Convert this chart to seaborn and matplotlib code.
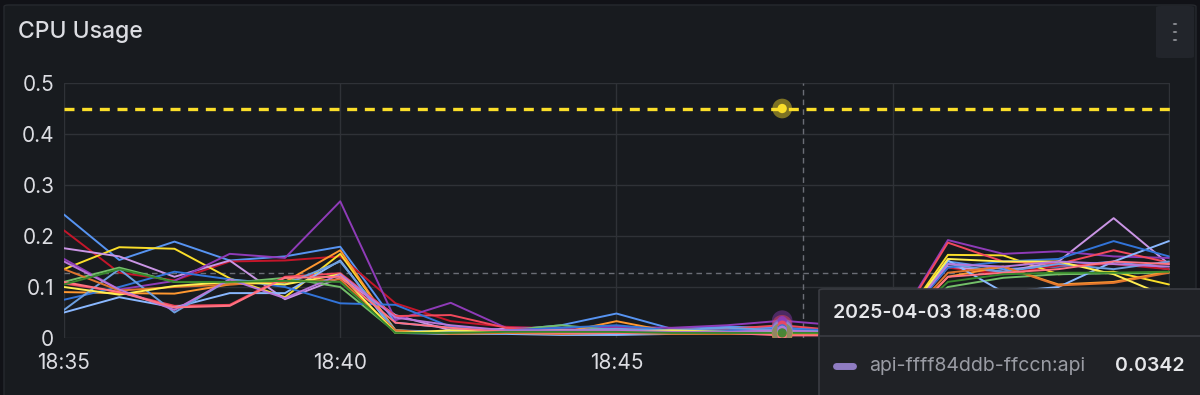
import numpy as np
import pandas as pd
import matplotlib
matplotlib.use("Agg")
import matplotlib.pyplot as plt
import matplotlib.patches as mpatches
import seaborn as sns

# ---------------- data ----------------
minutes = list(range(21))  # 18:35 ... 18:55, 1-minute steps
tick_pos = [0, 5, 10, 15, 20]
tick_labels = ["18:35", "18:40", "18:45", "", ""]   # 18:50 / 18:55 hidden under the tooltip
y_ticks = [0, 0.1, 0.2, 0.3, 0.4, 0.5]
y_tick_labels = ["0", "0.1", "0.2", "0.3", "0.4", "0.5"]
threshold = 0.45
hover_idx = 13
hover_label = "2025-04-03 18:48:00"
hover_series = "api-ffff84ddb-ffccn:api"
hover_value = "0.0342"

series_names = [
    "api-ffff84ddb-2k9xt:api", "api-ffff84ddb-4hq7m:api", "api-ffff84ddb-5rwzn:api",
    "api-ffff84ddb-7bjlc:api", "api-ffff84ddb-ffccn:api", "api-ffff84ddb-8tnvd:api",
    "api-ffff84ddb-9pxqs:api", "api-ffff84ddb-b2mfk:api", "api-ffff84ddb-cw6rh:api",
    "api-ffff84ddb-dl3gz:api", "api-ffff84ddb-gk8vy:api", "api-ffff84ddb-hn4bs:api",
    "api-ffff84ddb-jq5tw:api", "api-ffff84ddb-mv2xp:api", "api-ffff84ddb-rz7kd:api",
    "api-ffff84ddb-xs9lf:api",
]
series_colors = [
    "#5794F2", "#C4162A", "#FADE2A", "#CA95E5", "#8F3BB8", "#73BF69",
    "#FF9830", "#F2495C", "#8AB8FF", "#3274D9", "#6C9FE0", "#E0752D",
    "#FFEE52", "#B877D9", "#FF7383", "#37872D",
]
s01 = [0.242,0.153,0.189,0.152,0.160,0.179,0.030,0.020,0.015,0.025,0.048,0.018,0.022,0.020,0.015,0.012,0.150,0.135,0.140,0.150,0.135]
s02 = [0.211,0.128,0.113,0.150,0.152,0.160,0.068,0.033,0.022,0.018,0.020,0.016,0.018,0.015,0.014,0.012,0.138,0.125,0.142,0.145,0.135]
s03 = [0.135,0.178,0.175,0.117,0.080,0.165,0.015,0.010,0.012,0.015,0.012,0.010,0.012,0.010,0.010,0.008,0.163,0.162,0.125,0.130,0.105]
s04 = [0.176,0.160,0.120,0.152,0.076,0.118,0.045,0.015,0.018,0.012,0.015,0.012,0.015,0.018,0.012,0.012,0.140,0.130,0.150,0.235,0.145]
s05 = [0.155,0.095,0.112,0.165,0.157,0.268,0.035,0.069,0.020,0.020,0.022,0.020,0.025,0.034,0.025,0.015,0.192,0.165,0.170,0.160,0.157]
s06 = [0.110,0.138,0.110,0.108,0.118,0.100,0.012,0.010,0.015,0.025,0.015,0.012,0.010,0.012,0.010,0.010,0.100,0.118,0.125,0.127,0.128]
s07 = [0.090,0.088,0.087,0.105,0.110,0.172,0.012,0.008,0.010,0.010,0.033,0.012,0.010,0.008,0.008,0.008,0.120,0.140,0.105,0.110,0.130]
s08 = [0.107,0.090,0.063,0.065,0.120,0.127,0.043,0.045,0.020,0.015,0.015,0.012,0.018,0.025,0.015,0.012,0.187,0.150,0.145,0.172,0.148]
s09 = [0.050,0.080,0.060,0.088,0.088,0.152,0.010,0.008,0.008,0.006,0.006,0.008,0.010,0.012,0.008,0.006,0.152,0.090,0.100,0.150,0.190]
s10 = [0.075,0.100,0.130,0.115,0.100,0.068,0.065,0.022,0.015,0.020,0.025,0.015,0.015,0.018,0.015,0.012,0.138,0.150,0.155,0.190,0.160]
s11 = [0.055,0.135,0.050,0.115,0.105,0.150,0.015,0.012,0.012,0.015,0.018,0.015,0.020,0.015,0.012,0.010,0.145,0.130,0.145,0.135,0.150]
s12 = [0.135,0.093,0.100,0.105,0.110,0.115,0.015,0.008,0.010,0.008,0.010,0.008,0.008,0.008,0.008,0.008,0.128,0.140,0.103,0.108,0.128]
s13 = [0.100,0.085,0.102,0.110,0.105,0.125,0.010,0.015,0.012,0.015,0.012,0.015,0.012,0.010,0.010,0.008,0.155,0.150,0.150,0.125,0.080]
s14 = [0.150,0.095,0.055,0.115,0.078,0.125,0.040,0.025,0.015,0.015,0.015,0.012,0.012,0.015,0.010,0.010,0.145,0.140,0.150,0.145,0.140]
s15 = [0.110,0.090,0.060,0.063,0.118,0.120,0.030,0.020,0.012,0.010,0.010,0.010,0.010,0.005,0.005,0.005,0.120,0.128,0.135,0.150,0.145]
s16 = [0.105,0.135,0.110,0.110,0.112,0.110,0.010,0.010,0.012,0.012,0.012,0.010,0.010,0.010,0.010,0.010,0.110,0.125,0.128,0.128,0.130]
series_values = [s01, s02, s03, s04, s05, s06, s07, s08, s09, s10, s11, s12, s13, s14, s15, s16]

# ---------------- style ----------------
BG_OUT = "#111217"
BG = "#181b1f"
GRID = "#2f3237"
TXT = "#dcdde2"

sns.set_theme(style="dark")
plt.rcParams["font.family"] = ["Inter", "DejaVu Sans"]

fig = plt.figure(figsize=(12, 3.95), dpi=100)
fig.patch.set_facecolor(BG_OUT)
W, H = 1200, 395

def fx(px):
    return px / W

def fy(py):
    return 1 - py / H

# panel background
fig.patches.append(mpatches.FancyBboxPatch((fx(4), fy(400)), fx(1192), 395 / H,
                                           boxstyle="round,pad=0,rounding_size=0.004",
                                           transform=fig.transFigure, facecolor=BG,
                                           edgecolor="#26292e", linewidth=1.0, zorder=-5))
# menu button
fig.patches.append(mpatches.FancyBboxPatch((fx(1156), fy(58)), fx(38), 52 / H,
                                           boxstyle="round,pad=0,rounding_size=0.004",
                                           transform=fig.transFigure, facecolor="#22252b",
                                           edgecolor="none", zorder=-4))
for dy in (24, 32, 40):
    fig.patches.append(mpatches.Circle((fx(1175), fy(dy)), 2.2 / W, transform=fig.transFigure,
                                       facecolor="#aeb0b6", edgecolor="none", zorder=-3))
fig.text(fx(18), fy(32), "CPU Usage", fontsize=16.5, color=TXT, va="center", ha="left",
         fontweight="medium")

ax = fig.add_axes([fx(64), 1 - 338 / H, fx(1106), 255 / H])
ax.set_zorder(1)
ax.set_facecolor(BG)

rows = []
for name, vals in zip(series_names, series_values):
    for m, v in zip(minutes, vals):
        rows.append({"t": m, "v": v, "series": name})
df = pd.DataFrame(rows)
pal = dict(zip(series_names, series_colors))

sns.lineplot(data=df, x="t", y="v", hue="series", hue_order=series_names,
             palette=pal, legend=False, linewidth=1.4, ax=ax, zorder=3, estimator=None)

# threshold
ax.axhline(threshold, color="#FADE2A", linewidth=2.4, dashes=(3.0, 2.3), zorder=4)

# crosshair
ax.axvline(hover_idx + 0.38, color="#6b6e76", linewidth=1, dashes=(4, 3), zorder=2)
ax.axhline(0.127, color="#6b6e76", linewidth=1, dashes=(4, 3), zorder=2)

# hover points
hov = df[df["t"] == hover_idx]
sns.scatterplot(data=hov, x="t", y="v", hue="series", hue_order=series_names,
                palette=pal, legend=False, s=220, alpha=0.45, edgecolor="none", ax=ax, zorder=5)
sns.scatterplot(data=hov, x="t", y="v", hue="series", hue_order=series_names,
                palette=pal, legend=False, s=45, alpha=0.9, edgecolor="none", ax=ax, zorder=6)
ax.scatter([hover_idx], [threshold], s=200, color="#FADE2A", alpha=0.45, edgecolor="none", zorder=5)
ax.scatter([hover_idx], [threshold], s=45, color="#FADE2A", edgecolor="none", zorder=6)

ax.set_xlim(0, 20.02)
ax.set_ylim(0, 0.5)
ax.set_xticks(tick_pos)
ax.set_xticklabels(tick_labels)
ax.set_yticks(y_ticks)
ax.set_yticklabels(y_tick_labels)
ax.set_xlabel("")
ax.set_ylabel("")
ax.grid(True, color=GRID, linewidth=1)
ax.set_axisbelow(True)
for sp in ax.spines.values():
    sp.set_visible(False)
ax.tick_params(axis="x", length=5, color=GRID, width=1, pad=6, labelsize=15, labelcolor=TXT)
ax.tick_params(axis="y", length=0, pad=7, labelsize=15, labelcolor=TXT)

# tooltip (drawn above the axes)
fig.patches.append(mpatches.FancyBboxPatch((fx(819), fy(400)), fx(400), 111 / H,
                                           boxstyle="round,pad=0,rounding_size=0.004",
                                           transform=fig.transFigure, facecolor="#202226",
                                           edgecolor="#3a3c42", linewidth=1.2, zorder=10))
fig.lines.append(plt.Line2D([fx(819), fx(1200)], [fy(336), fy(336)], transform=fig.transFigure,
                            color="#3a3c42", linewidth=1.2, zorder=11))
fig.text(fx(833), fy(313), hover_label, fontsize=14, color="#e6e7ea", va="center", ha="left",
         fontweight="semibold", zorder=12)
fig.lines.append(plt.Line2D([fx(836), fx(853)], [fy(366), fy(366)], transform=fig.transFigure,
                            color="#8f7cc2", linewidth=5, solid_capstyle="round", zorder=12))
fig.text(fx(869), fy(366), hover_series, fontsize=14, color="#9a9ca4", va="center", ha="left",
         zorder=12)
fig.text(fx(1184), fy(366), hover_value, fontsize=14, color="#e6e7ea", va="center", ha="right",
         fontweight="semibold", zorder=12)

fig.savefig("out.png", dpi=100, facecolor=fig.get_facecolor())
